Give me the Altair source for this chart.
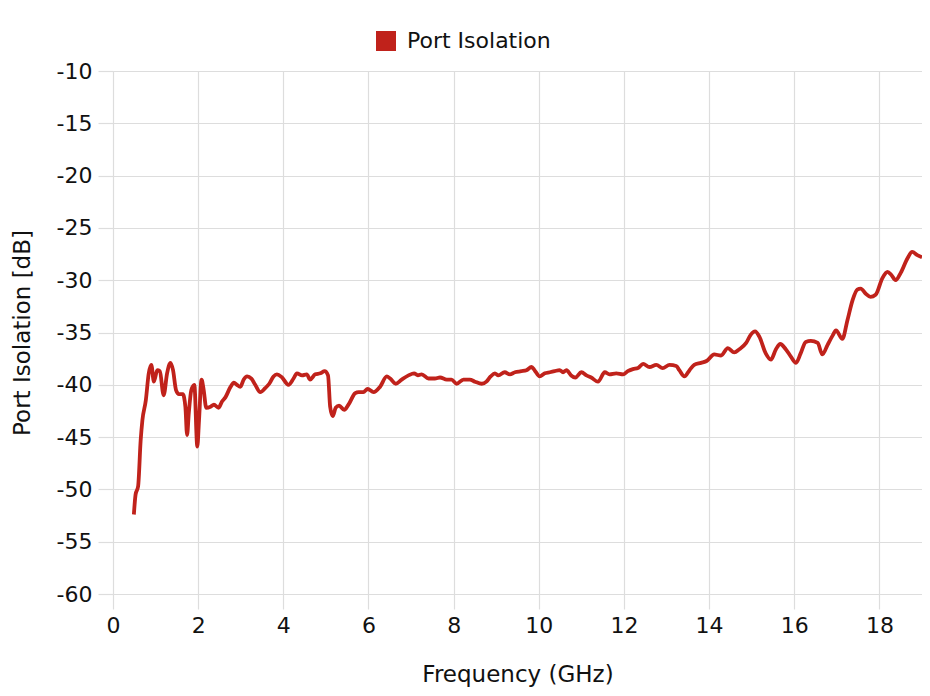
import altair as alt
import pandas as pd

freq = [0.49, 0.53, 0.59, 0.65, 0.69, 0.77, 0.84, 0.90, 0.96, 1.04, 1.10, 1.19, 1.27, 1.35, 1.41,
        1.48, 1.55, 1.64, 1.70, 1.74, 1.78, 1.84, 1.91, 1.98, 2.02, 2.08, 2.13, 2.19, 2.29, 2.37,
        2.48, 2.56, 2.64, 2.76, 2.84, 2.91, 2.99, 3.07, 3.15, 3.25, 3.34, 3.46, 3.58, 3.67, 3.77,
        3.85, 3.97, 4.12, 4.24, 4.32, 4.44, 4.55, 4.63, 4.75, 4.87, 4.97, 5.05, 5.10, 5.16, 5.23,
        5.31, 5.43, 5.53, 5.69, 5.77, 5.88, 5.98, 6.12, 6.27, 6.43, 6.51, 6.64, 6.78, 6.94, 7.07,
        7.16, 7.25, 7.41, 7.56, 7.68, 7.84, 7.95, 8.07, 8.23, 8.38, 8.50, 8.66, 8.77, 8.87, 8.97,
        9.05, 9.20, 9.32, 9.44, 9.59, 9.71, 9.83, 9.90, 10.02, 10.14, 10.26, 10.37, 10.49, 10.57,
        10.65, 10.76, 10.86, 11.00, 11.12, 11.23, 11.39, 11.55, 11.66, 11.82, 11.98, 12.09, 12.21,
        12.33, 12.45, 12.60, 12.76, 12.91, 13.07, 13.23, 13.30, 13.42, 13.54, 13.65, 13.81, 13.95,
        14.12, 14.28, 14.44, 14.59, 14.71, 14.87, 14.98, 15.08, 15.18, 15.33, 15.45, 15.57, 15.67,
        15.80, 15.92, 16.04, 16.15, 16.27, 16.39, 16.55, 16.66, 16.78, 16.90, 16.98, 17.13, 17.25,
        17.37, 17.48, 17.56, 17.68, 17.79, 17.91, 18.07, 18.19, 18.28, 18.38, 18.50, 18.66, 18.77,
        18.89, 19.00]

isolation = [-52.4, -50.5, -49.7, -45.3, -43.4, -41.5, -38.9, -38.1, -39.7, -38.6, -38.7, -41.0,
             -38.9, -37.9, -38.6, -40.5, -40.9, -40.9, -42.1, -44.8, -42.7, -40.5, -40.0, -45.9,
             -43.4, -39.5, -40.5, -42.2, -42.1, -41.9, -42.2, -41.6, -41.2, -40.2, -39.8, -40.0,
             -40.2, -39.5, -39.2, -39.4, -40.0, -40.7, -40.3, -39.9, -39.2, -39.0, -39.3, -40.0,
             -39.4, -38.9, -39.1, -39.0, -39.5, -39.0, -38.9, -38.7, -39.1, -42.1, -43.0, -42.2,
             -42.0, -42.4, -41.9, -40.8, -40.7, -40.7, -40.4, -40.7, -40.2, -39.2, -39.4, -39.9,
             -39.5, -39.1, -38.9, -39.1, -39.0, -39.4, -39.4, -39.3, -39.5, -39.5, -39.9, -39.5,
             -39.5, -39.7, -39.9, -39.7, -39.2, -38.9, -39.1, -38.8, -39.0, -38.8, -38.7, -38.6,
             -38.3, -38.6, -39.2, -38.9, -38.8, -38.7, -38.6, -38.8, -38.6, -39.1, -39.3, -38.8,
             -39.1, -39.3, -39.7, -38.8, -39.0, -38.9, -39.0, -38.7, -38.5, -38.4, -38.0, -38.3,
             -38.1, -38.4, -38.1, -38.2, -38.6, -39.2, -38.6, -38.1, -37.9, -37.7, -37.1, -37.2,
             -36.5, -36.9, -36.6, -36.0, -35.2, -34.9, -35.4, -37.0, -37.6, -36.6, -36.1, -36.6,
             -37.3, -37.9, -37.0, -35.9, -35.8, -36.0, -37.1, -36.2, -35.3, -34.8, -35.6, -33.8,
             -31.9, -30.9, -30.8, -31.3, -31.6, -31.4, -29.8, -29.2, -29.5, -30.0, -29.3, -27.9,
             -27.3, -27.6, -27.8]

series_name = "Port Isolation"
x_ticks = [0, 2, 4, 6, 8, 10, 12, 14, 16, 18]
y_ticks = [-60, -55, -50, -45, -40, -35, -30, -25, -20, -15, -10]

df = pd.DataFrame({"freq": freq, "iso": isolation, "series": series_name})

FONT = "DejaVu Sans"
FS = 22
TFS = 23
RED = "#C0221B"
TXT = "#111"

chart = alt.Chart(df).mark_line(strokeWidth=3.8, interpolate="monotone").encode(
    x=alt.X("freq:Q", title="Frequency (GHz)",
            scale=alt.Scale(domain=[0, 19], nice=False, zero=False),
            axis=alt.Axis(values=x_ticks, tickSize=15, labelPadding=6, domain=False,
                          labelFlush=False, labelExpr="'' + datum.value",
                          titleY=80, titleBaseline="middle")),
    y=alt.Y("iso:Q", title="Port Isolation [dB]",
            scale=alt.Scale(domain=[-60, -10], nice=False, zero=False),
            axis=alt.Axis(values=y_ticks, tickSize=15, labelPadding=6, domain=False,
                          labelExpr="'' + datum.value",
                          titleX=-91, titleBaseline="middle")),
    color=alt.Color("series:N", scale=alt.Scale(range=[RED]),
                    legend=alt.Legend(title=None, orient="none", legendX=262, legendY=-41,
                                      symbolType="square", symbolSize=400,
                                      symbolFillColor=RED, symbolStrokeWidth=0,
                                      labelFontSize=FS, labelOffset=10, padding=0,
                                      labelFont=FONT, labelColor=TXT)),
).properties(
    width=809, height=523,
    autosize=alt.AutoSizeParams(type="none"),
    padding={"left": 105, "top": 63, "right": 0, "bottom": 94},
).configure_view(
    stroke="#ddd"
).configure_axis(
    labelFont=FONT, titleFont=FONT, labelFontSize=FS, titleFontSize=TFS,
    titleFontWeight="normal", labelColor=TXT, titleColor=TXT,
    gridColor="#ddd", tickColor="#ddd", gridWidth=1.2, tickWidth=1.2
)

chart.save("out.html", embed_options={"renderer": "svg", "actions": False})
